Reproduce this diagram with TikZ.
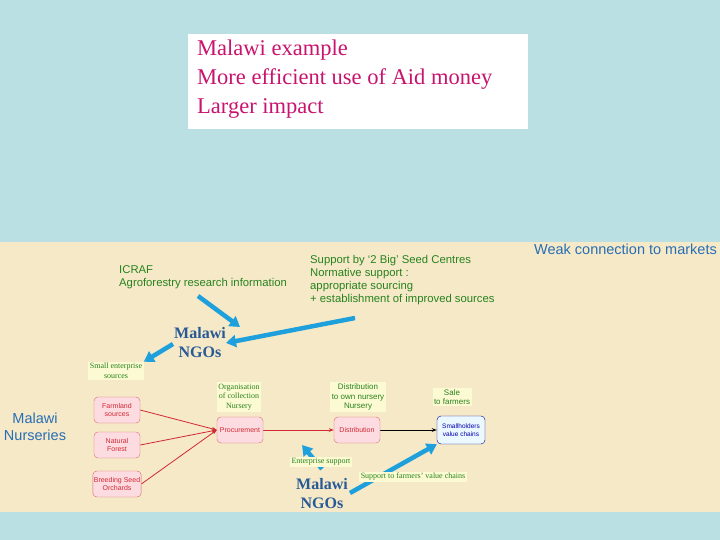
\documentclass[tikz,border=0pt]{standalone}
\usepackage{fontspec}
\setmainfont{Liberation Serif}
\setsansfont{Liberation Sans}
\usetikzlibrary{arrows.meta,backgrounds}
\definecolor{bgblue}{RGB}{187,224,227}
\definecolor{panel}{RGB}{245,233,200}
\definecolor{titlec}{RGB}{200,20,110}
\definecolor{grn}{RGB}{40,130,30}
\definecolor{ablue}{RGB}{30,160,220}
\definecolor{dblue}{RGB}{40,90,150}
\definecolor{lblue}{RGB}{40,110,180}
\definecolor{pinkf}{RGB}{252,220,225}
\definecolor{redc}{RGB}{210,40,50}
\definecolor{yelf}{RGB}{252,250,210}
\begin{document}
\begin{tikzpicture}[x=1pt,y=-1pt,
 rbox/.style={draw=redc!70,fill=pinkf,rounded corners=4pt,minimum width=46pt,minimum height=26pt,align=center,font=\sffamily\fontsize{7}{8.5}\selectfont,text=redc,inner sep=1pt},
 lbl/.style={fill=yelf,align=center,font=\fontsize{8}{9.5}\selectfont,text=grn,inner sep=1.5pt},
 grt/.style={align=left,font=\sffamily\fontsize{11.3}{13}\selectfont,text=grn,inner sep=0pt},
 ngo/.style={align=center,font=\bfseries\fontsize{16}{19}\selectfont,text=dblue,inner sep=0pt},
 barr/.style={ablue,line width=4.5pt,-{Triangle[length=10pt,width=12pt]}},
 rarr/.style={redc,line width=0.8pt,-{Stealth[length=5pt]}}]
\useasboundingbox (0,0) rectangle (720,540);
\node[fill=white,minimum width=340pt,minimum height=95pt,anchor=north west] (tb) at (188,34) {};
\node[anchor=north west,align=left,text=titlec,font=\fontsize{22.5}{29}\selectfont,inner sep=0pt] (title) at (197,40) {Malawi example\\More efficient use of Aid money\\Larger impact};
\node[anchor=north east,text=lblue,font=\sffamily\fontsize{14.5}{15}\selectfont,inner sep=0pt] (weak) at (717,244) {Weak connection to markets};
\node[grt,anchor=north west] (icraf) at (119,265) {ICRAF\\Agroforestry research information};
\node[grt,anchor=north west] (seed) at (310,255) {Support by `2 Big' Seed Centres\\Normative support :\\appropriate sourcing\\+ establishment of improved sources};
\node[ngo] (ngo1) at (200,343) {Malawi\\NGOs};
\node[ngo] (ngo2) at (322,494) {Malawi\\NGOs};
\node[align=center,text=lblue,font=\sffamily\fontsize{14.5}{17}\selectfont,inner sep=0pt] (nurs) at (35,427) {Malawi\\Nurseries};
\node[lbl] (small) at (116,371) {Small enterprise\\sources};
\node[rbox] (farm) at (117,410) {Farmland\\sources};
\node[rbox] (nat) at (117,445) {Natural\\Forest};
\node[rbox] (breed) at (117,484) {Breeding Seed\\Orchards};
\node[rbox] (proc) at (240,430) {Procurement};
\node[rbox] (dist) at (357,430) {Distribution};
\node[rbox,draw=blue!60!black,fill=cyan!8,text=blue!70!black,minimum width=48pt,minimum height=28pt,font=\sffamily\fontsize{6.5}{7.5}\selectfont] (small2) at (461,430) {Smallholders\\value chains};
\node[lbl] (org) at (239,397) {Organisation\\of collection\\Nursery};
\node[lbl,font=\sffamily\fontsize{8}{9.5}\selectfont] (distl) at (358,397) {Distribution\\to own nursery\\Nursery};
\node[lbl,font=\sffamily\fontsize{8}{9.5}\selectfont] (sale) at (452,397) {Sale\\to farmers};
\node[lbl] (ent) at (321,462) {Enterprise support};
\node[lbl] (sup) at (413,477) {Support to farmers' value chains};
\begin{scope}[on background layer]
\fill[bgblue] (0,0) rectangle (720,540);
\fill[panel] (0,242) rectangle (720,512);
\draw[rarr] (farm.east) -- (proc.west);
\draw[rarr] (nat.east) -- (proc.west);
\draw[rarr] (breed.east) -- (proc.west);
\draw[rarr] (proc) -- (dist);
\draw[black,line width=0.8pt,-{Stealth[length=5pt]}] (dist) -- (small2);
\coordinate (c1) at (198,296);
\coordinate (c2) at (355,318);
\coordinate (c3) at (322,469);
\coordinate (c4) at (350,493);
\coordinate (c5) at (173,344);
\draw[barr] (c1) -- (240,327);
\draw[barr] (c2) -- (ngo1.east);
\draw[barr] (c5) -- (small.north east);
\draw[barr] (c3) -- (302,445);
\draw[barr] (c4) -- (small2.south west);
\end{scope}
\end{tikzpicture}
\end{document}
